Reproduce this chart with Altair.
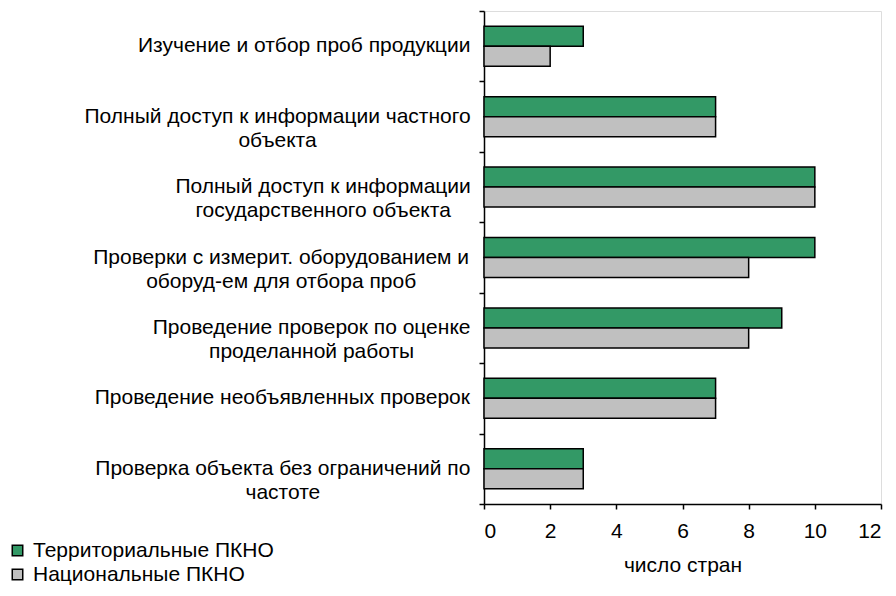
import altair as alt
import pandas as pd

# --- chart data -------------------------------------------------------------
categories = [
    "Изучение и отбор проб продукции",
    "Полный доступ к информации частного\nобъекта",
    "Полный доступ к информации\nгосударственного объекта",
    "Проверки с измерит. оборудованием и\nоборуд-ем для отбора проб",
    "Проведение проверок по оценке\nпроделанной работы",
    "Проведение необъявленных проверок",
    "Проверка объекта без ограничений по\nчастоте",
]
territorial = [3, 7, 10, 10, 9, 7, 3]
national = [2, 7, 10, 8, 8, 7, 3]
series_names = ["Территориальные ПКНО", "Национальные ПКНО"]
series_colors = ["#339966", "#C0C0C0"]
x_ticks = [0, 2, 4, 6, 8, 10, 12]
x_title = "число стран"

# --- layout -----------------------------------------------------------------
FONT = "Liberation Sans"
FS = 21
W, H = 397, 493
PAD_L, PAD_T = 484, 11
X_MAX = 12

# approximate Arial advance widths (1/1000 em) for centring multi-line labels
_adv = {
    "а": 556, "б": 573, "в": 531, "г": 365, "д": 583, "е": 556, "ж": 669,
    "з": 458, "и": 559, "й": 559, "к": 438, "л": 583, "м": 688, "н": 552,
    "о": 556, "п": 542, "р": 556, "с": 500, "т": 458, "у": 500, "ф": 823,
    "х": 500, "ц": 573, "ч": 521, "ш": 802, "щ": 823, "ъ": 625, "ы": 719,
    "ь": 521, "э": 510, "ю": 750, "я": 542, " ": 278, ".": 278, "-": 333,
}


def text_width(s):
    return max(sum(_adv.get(c, 722) for c in line) for line in s.split("\n")) * FS / 1000


label_gap = 13  # px between label block and the axis
label_x = [-(label_gap + text_width(c) / 2) * X_MAX / W for c in categories]

bars = pd.DataFrame({
    "cat": categories * 2,
    "series": [series_names[0]] * len(categories) + [series_names[1]] * len(categories),
    "value": territorial + national,
})
labels = pd.DataFrame({"cat": categories, "lx": label_x})

y_enc = alt.Y(
    "cat:N",
    sort=categories,
    scale=alt.Scale(paddingInner=0, paddingOuter=0),
    axis=alt.Axis(
        labels=False, title=None, tickBand="extent", tickSize=5,
        tickColor="black", tickWidth=1.5, domainColor="black", domainWidth=1.5,
    ),
)

x_scale = alt.Scale(domain=[0, X_MAX], nice=False)

bar_layer = alt.Chart(bars).mark_bar(stroke="black", strokeWidth=1.5).encode(
    y=y_enc,
    yOffset=alt.YOffset(
        "series:N", sort=series_names,
        scale=alt.Scale(paddingInner=0, paddingOuter=0.76),
    ),
    x=alt.X(
        "value:Q",
        scale=x_scale,
        axis=alt.Axis(
            values=x_ticks, title=x_title, grid=False, tickSize=5,
            tickColor="black", tickWidth=1.5, domainColor="black", domainWidth=1.5,
            labelFont=FONT, labelFontSize=FS, labelColor="black", labelPadding=11,
            titleFont=FONT, titleFontSize=FS, titleFontWeight="normal",
            titleColor="black", titlePadding=13,
        ),
    ),
    color=alt.Color(
        "series:N",
        sort=series_names,
        scale=alt.Scale(domain=series_names, range=series_colors),
        legend=alt.Legend(
            orient="none", legendX=-477, legendY=529, title=None,
            symbolType="square", symbolSize=110, symbolStrokeColor="black",
            symbolStrokeWidth=1.5, labelFont=FONT, labelFontSize=FS,
            labelColor="black", labelOffset=5, rowPadding=2, padding=0,
            labelLimit=0,
        ),
    ),
)

label_layer = alt.Chart(labels).mark_text(
    align="center", baseline="middle", lineBreak="\n", font=FONT,
    fontSize=FS, lineHeight=24, color="black", clip=False,
).encode(
    y=alt.Y("cat:N", sort=categories),
    x=alt.X("lx:Q", scale=x_scale),
    text="cat:N",
)

chart = (
    alt.layer(bar_layer, label_layer)
    .properties(
        width=W, height=H,
        autosize=alt.AutoSizeParams(type="none"),
        padding={"left": PAD_L, "top": PAD_T, "right": 896 - PAD_L - W, "bottom": 596 - PAD_T - H},
    )
    .configure_view(stroke="#808080", strokeWidth=1.5)
    .configure(background="white")
)

chart.save("out.html", embed_options={"renderer": "svg", "actions": False})
